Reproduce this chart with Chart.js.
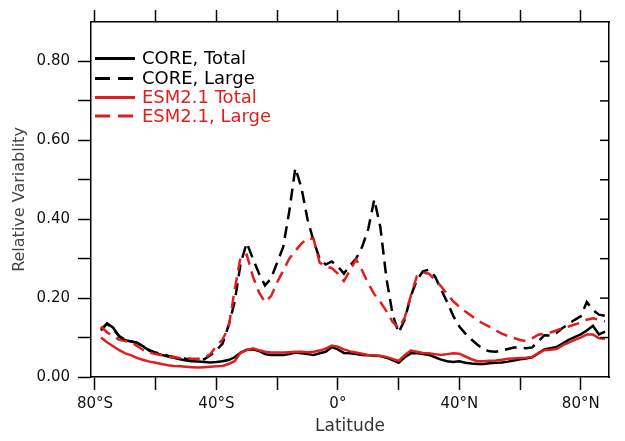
<!DOCTYPE html>
<html>
<head>
<meta charset="utf-8">
<script src="https://cdn.jsdelivr.net/npm/chart.js@4/dist/chart.umd.min.js"></script>
<style>
  html, body { margin: 0; padding: 0; background: #fff; }
  canvas { display: block; }
</style>
</head>
<body>
<canvas id="grafico" width="625" height="441"></canvas>
<script>
// latitudes (deg, negative = south)
const lats = [-78,-76,-74,-72,-70,-68,-66,-64,-62,-60,-58,-56,-54,-52,-50,-48,-46,-44,-42,-40,
  -38,-36,-34,-32,-30,-28,-26,-24,-22,-20,-18,-16,-14,-12,-10,-8,-6,-4,-2,0,
  2,4,6,8,10,12,14,16,18,20,22,24,26,28,30,32,34,36,38,40,
  42,44,46,48,50,52,54,56,58,60,62,64,66,68,70,72,74,76,78,80,82,84,86,88];

const coreTotal = [.118,.136,.125,.102,.093,.090,.087,.077,.066,.060,.056,.052,.049,.045,.042,.040,.039,.038,.037,.038,
  .040,.043,.050,.062,.069,.070,.066,.058,.056,.056,.056,.058,.062,.060,.058,.056,.060,.064,.076,.070,
  .061,.060,.058,.056,.055,.054,.053,.049,.043,.036,.050,.060,.061,.058,.056,.050,.044,.040,.038,.040,
  .036,.034,.033,.033,.035,.036,.037,.039,.042,.045,.047,.050,.060,.070,.073,.076,.085,.094,.101,.108,.118,.130,.108,.115];

const coreLarge = [.120,.135,.122,.104,.094,.090,.086,.076,.068,.062,.058,.054,.051,.048,.046,.045,.044,.045,.055,.068,
  .084,.130,.190,.289,.340,.300,.263,.232,.250,.290,.330,.420,.530,.480,.400,.345,.300,.285,.293,.280,
  .262,.283,.300,.330,.375,.450,.380,.250,.160,.112,.145,.205,.245,.268,.272,.255,.222,.190,.155,.128,
  .110,.095,.082,.070,.065,.064,.067,.071,.075,.074,.073,.075,.090,.106,.105,.112,.124,.135,.145,.154,.190,.170,.158,.155];

const esmTotal = [.100,.088,.078,.068,.060,.055,.048,.043,.039,.036,.033,.030,.028,.027,.026,.025,.024,.025,.026,.027,
  .028,.033,.040,.062,.068,.073,.068,.064,.062,.062,.062,.063,.064,.064,.063,.064,.067,.072,.080,.077,
  .070,.065,.062,.059,.056,.055,.053,.051,.046,.041,.055,.067,.064,.061,.060,.058,.056,.058,.060,.059,
  .052,.045,.040,.040,.041,.042,.044,.046,.047,.048,.049,.051,.060,.068,.069,.071,.080,.087,.094,.100,.108,.108,.098,.097];

const esmLarge = [.128,.113,.104,.094,.091,.088,.078,.068,.062,.058,.055,.052,.050,.048,.047,.046,.046,.048,.058,.078,
  .095,.125,.220,.306,.310,.255,.215,.190,.205,.240,.270,.300,.320,.338,.352,.350,.290,.280,.276,.262,
  .243,.270,.298,.270,.237,.210,.190,.167,.140,.124,.150,.205,.255,.265,.262,.246,.230,.210,.192,.178,
  .166,.155,.143,.135,.127,.118,.110,.104,.099,.094,.091,.098,.107,.110,.113,.118,.124,.128,.133,.138,.145,.149,.145,.141];

const serieNombres = ["CORE, Total", "CORE, Large", "ESM2.1 Total", "ESM2.1, Large"];

const xTicks = [-80, -60, -40, -20, 0, 20, 40, 60, 80];
const xTickLabels = ["80°S", "", "40°S", "", "0°", "", "40°N", "", "80°N"];
const yTicks = [0, 0.1, 0.2, 0.3, 0.4, 0.5, 0.6, 0.7, 0.8];
const yTickLabels = ["0.00", "", "0.20", "", "0.40", "", "0.60", "", "0.80"];

const ROJO = "#e01e1e";
const NEGRO = "#000000";

const puntos = arr => lats.map((x, i) => ({ x: x, y: arr[i] }));

// leyenda dibujada a mano dentro del área
const leyenda = {
  id: "leyenda",
  afterDraw(chart) {
    const c = chart.ctx;
    const filas = [58.5, 78.5, 97.5, 116];
    c.save();
    chart.data.datasets.forEach((ds, i) => {
      const y = filas[i];
      c.strokeStyle = ds.borderColor;
      c.lineWidth = 3;
      c.setLineDash(ds.borderDash.length ? [15, 8] : []);
      c.beginPath();
      c.moveTo(95, y);
      c.lineTo(135, y);
      c.stroke();
      c.setLineDash([]);
      c.fillStyle = ds.borderColor;
      c.font = "18px 'DejaVu Sans'";
      c.textBaseline = "alphabetic";
      c.textAlign = "left";
      c.fillText(ds.label, 142, y + 5.5);
    });
    // ticks interiores del eje derecho
    const y2 = chart.scales.y2;
    c.strokeStyle = "#000";
    c.lineWidth = 1.5;
    yTicks.slice(1).forEach(v => {
      const py = y2.getPixelForValue(v);
      c.beginPath();
      c.moveTo(y2.left, py);
      c.lineTo(y2.left - 9, py);
      c.stroke();
    });
    c.restore();
  }
};

const fijarTicks = valores => scale => {
  scale.ticks = valores.map(v => ({ value: v }));
};

const ctx = document.getElementById("grafico");

new Chart(ctx, {
  type: "line",
  data: {
    datasets: [
      { label: serieNombres[0], data: puntos(coreTotal), borderColor: NEGRO, borderWidth: 2.5, borderDash: [], order: 2 },
      { label: serieNombres[1], data: puntos(coreLarge), borderColor: NEGRO, borderWidth: 2.5, borderDash: [12, 7], order: 3 },
      { label: serieNombres[2], data: puntos(esmTotal), borderColor: ROJO, borderWidth: 2.5, borderDash: [], order: 0 },
      { label: serieNombres[3], data: puntos(esmLarge), borderColor: ROJO, borderWidth: 2.5, borderDash: [12, 7], order: 1 }
    ]
  },
  options: {
    responsive: false,
    animation: false,
    layout: { padding: 0 },
    elements: { point: { radius: 0 }, line: { tension: 0, fill: false } },
    plugins: { legend: { display: false }, tooltip: { enabled: false } },
    scales: {
      x: {
        type: "linear",
        position: "bottom",
        min: -81.3,
        max: 89.3,
        afterBuildTicks: fijarTicks(xTicks),
        afterFit: s => { s.height = 64; },
        grid: { drawOnChartArea: false, tickLength: 13, color: "#000", tickWidth: 1.5 },
        border: { display: true, color: "#000", width: 1.5 },
        ticks: {
          autoSkip: false, maxRotation: 0, padding: 5, color: "#111",
          font: { family: "DejaVu Sans", size: 15 },
          callback: v => xTickLabels[xTicks.indexOf(v)]
        },
        title: { display: true, text: "Latitude", color: "#333", font: { family: "DejaVu Sans", size: 17 }, padding: { top: 0, bottom: 4 } }
      },
      x2: {
        type: "linear",
        position: "top",
        min: -81.3,
        max: 89.3,
        afterBuildTicks: fijarTicks(xTicks),
        afterFit: s => { s.height = 22; },
        grid: { drawOnChartArea: false, tickLength: 12, color: "#000", tickWidth: 1.5 },
        border: { display: true, color: "#000", width: 1.5 },
        ticks: { display: false }
      },
      y: {
        type: "linear",
        position: "left",
        min: 0,
        max: 0.9,
        afterBuildTicks: fijarTicks(yTicks),
        afterFit: s => { s.width = 91; },
        grid: { drawOnChartArea: false, tickLength: 13, color: "#000", tickWidth: 1.5 },
        border: { display: true, color: "#000", width: 1.5 },
        ticks: {
          padding: 8, color: "#111",
          font: { family: "DejaVu Sans", size: 15 },
          callback: v => yTickLabels[yTicks.findIndex(t => Math.abs(t - v) < 1e-6)]
        },
        title: { display: true, text: "Relative Variablity", color: "#444", font: { family: "DejaVu Sans", size: 16 }, padding: { top: 10, bottom: 0 } }
      },
      y2: {
        type: "linear",
        position: "right",
        min: 0,
        max: 0.9,
        afterBuildTicks: fijarTicks(yTicks),
        afterFit: s => { s.width = 16; },
        grid: { drawOnChartArea: false, drawTicks: false },
        border: { display: true, color: "#000", width: 1.5 },
        ticks: { display: false }
      }
    }
  },
  plugins: [leyenda]
});
</script>
</body>
</html>
